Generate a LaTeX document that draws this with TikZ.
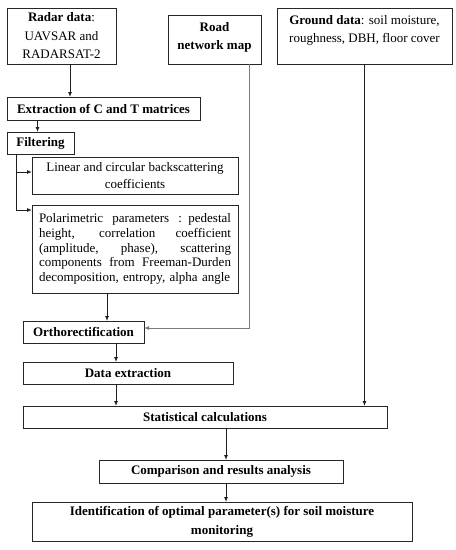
\documentclass[tikz,border=0pt]{standalone}
\usepackage{fontspec}
\setmainfont{Liberation Serif}
\usepackage{xcolor}
\usepackage{tikz}
\usetikzlibrary{arrows.meta, positioning, calc}
\definecolor{boxline}{HTML}{262626}
\definecolor{wire}{HTML}{1E1E1E}
\definecolor{roadgray}{HTML}{7A7A7A}

\newcommand{\jline}[1]{{\spaceskip=0.25em plus 1em\relax\makebox[192pt][s]{#1}}}

\begin{document}
\begin{tikzpicture}[
  x=1pt, y=-1pt,
  node distance=10pt,
  stepbox/.style={draw=boxline, line width=1pt, fill=white, inner xsep=4pt,
                  inner ysep=2pt, outer sep=0pt, minimum height=22pt, align=center,
                  font=\fontsize{13}{17}\selectfont},
  arr/.style={-{Latex[length=5pt, width=4pt]}, color=wire, line width=0.9pt}
]
  \useasboundingbox (0,0) rectangle (456,550);

  % Input data
  \node[stepbox, anchor=north west, minimum width=109pt, minimum height=56pt,
        font=\fontsize{13}{18.5}\selectfont]
    (radar) at (7,8) {\textbf{Radar data}:\\UAVSAR and\\RADARSAT-2};
  \node[stepbox, minimum width=93pt, minimum height=49pt,
        font=\fontsize{13}{18}\selectfont\bfseries,
        right=52pt of radar.north east, anchor=north west, yshift=-7pt]
    (road) {Road\\network map\\[-11pt]\mbox{}};
  \node[stepbox, minimum width=175pt, minimum height=56pt,
        font=\fontsize{13}{18}\selectfont,
        right=16pt of road.north east, anchor=north west, yshift=7pt]
    (ground) {\textbf{Ground data}: soil moisture,\\roughness, DBH, floor cover\\[-4pt]\mbox{}};

  % Radar processing
  \node[stepbox, minimum width=193pt, minimum height=23pt, font=\fontsize{13}{17}\selectfont\bfseries,
        below=33pt of radar.south west, anchor=north west]
    (extract) {Extraction of C and T matrices};
  \node[stepbox, minimum width=67pt, font=\fontsize{13}{17}\selectfont\bfseries,
        below=12pt of extract.south west, anchor=north west]
    (filter) {Filtering};
  \node[stepbox, minimum width=206pt, minimum height=37pt,
        below=3pt of filter.south west, anchor=north west, xshift=25pt]
    (linear) {Linear and circular backscattering\\coefficients};
  \node[stepbox, minimum width=206pt, minimum height=88pt, text width=192pt,
        inner xsep=7pt, align=left, font=\fontsize{13}{14.7}\selectfont,
        below=11pt of linear.south west, anchor=north west]
    (polar) {\jline{Polarimetric parameters : pedestal}\\
             \jline{height, correlation coefficient}\\
             \jline{(amplitude, phase), scattering}\\
             \jline{components from Freeman-Durden}\\
             decomposition, entropy, alpha angle};

  % Analysis
  \node[stepbox, minimum width=121pt, font=\fontsize{13}{17}\selectfont\bfseries,
        below=28pt of polar.south west, anchor=north west, xshift=-9pt]
    (ortho) {Orthorectification};
  \node[stepbox, minimum width=210pt, font=\fontsize{13}{17}\selectfont\bfseries,
        below=19pt of ortho.south west, anchor=north west]
    (dataex) {Data extraction};
  \node[stepbox, minimum width=364pt, font=\fontsize{13}{17}\selectfont\bfseries,
        below=22pt of dataex.south west, anchor=north west]
    (stat) {Statistical calculations};
  \node[stepbox, minimum width=244pt, minimum height=23pt, font=\fontsize{13}{17}\selectfont\bfseries,
        below=32pt of stat.south west, anchor=north west, xshift=76pt]
    (comp) {Comparison and results analysis};
  \node[stepbox, minimum width=380pt, minimum height=39pt, font=\fontsize{13}{19}\selectfont\bfseries,
        below=19pt of comp.south west, anchor=north west, xshift=-67pt]
    (ident) {Identification of optimal parameter(s) for soil moisture\\monitoring};

  % Arrows
  \draw[arr] ([xshift=8.5pt]radar.south) -- ([xshift=8.5pt]radar.south |- extract.north);
  \draw[arr] ([xshift=-3pt]filter.north |- extract.south) -- ([xshift=-3pt]filter.north);

  \coordinate (fk) at ([xshift=9pt]filter.south west);
  \draw[arr] (fk) |- ([yshift=3.5pt]linear.west);
  \draw[arr] (fk) |- ([yshift=-5pt]polar.north west);

  \draw[arr] ([xshift=-28pt]polar.south) -- ([xshift=-28pt]polar.south |- ortho.north);
  \draw[arr, color=roadgray] ([xshift=34.5pt]road.south) |- ([yshift=4pt]ortho.east);

  \draw[arr] ([xshift=32.5pt]ortho.south) -- ([xshift=32.5pt]ortho.south |- dataex.north);
  \draw[arr] ([xshift=-12pt]dataex.south) -- ([xshift=-12pt]dataex.south |- stat.north);
  \draw[arr] (ground.south) -- (ground.south |- stat.north);

  \draw[arr] ([xshift=5pt]comp.north |- stat.south) -- ([xshift=5pt]comp.north);
  \draw[arr] ([xshift=5pt]comp.south) -- ([xshift=5pt]comp.south |- ident.north);
\end{tikzpicture}
\end{document}
